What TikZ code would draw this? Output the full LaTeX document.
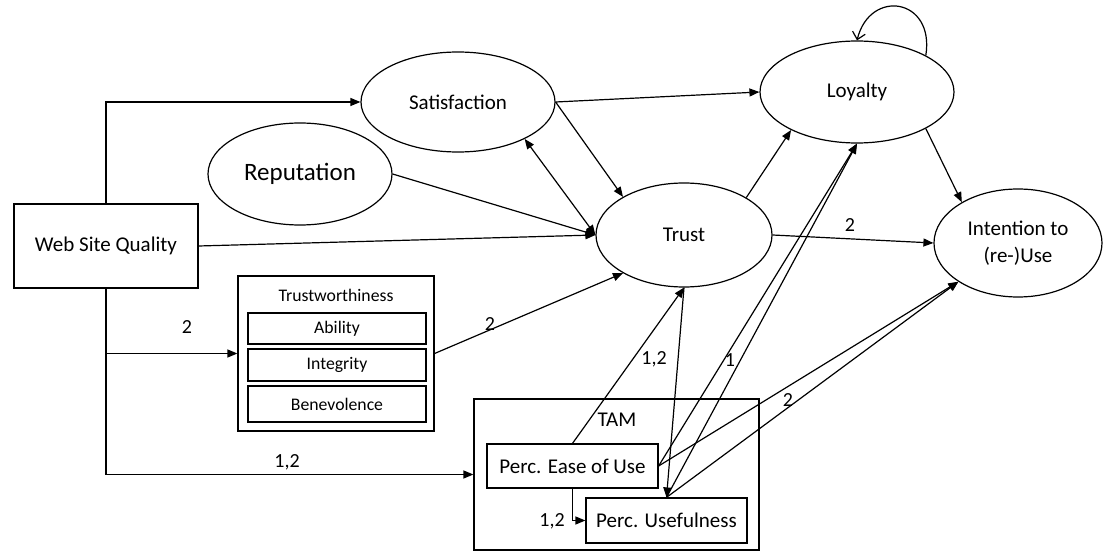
\documentclass[tikz,border=0pt]{standalone}
\usepackage{fontspec}
\setmainfont{Carlito}
\usetikzlibrary{shapes.geometric,arrows.meta}
\begin{document}
\begin{tikzpicture}[x=1pt,y=-1pt,line width=1.2pt,
  font=\fontsize{21}{27}\selectfont,
  oval/.style={ellipse,draw,inner sep=0pt},
  box/.style={rectangle,draw,inner sep=0pt},
  arr/.style={-{Triangle[length=10pt,width=8pt]}},
  biarr/.style={{Triangle[length=10pt,width=8pt]}-{Triangle[length=10pt,width=8pt]}},
  lbl/.style={font=\fontsize{20}{24}\selectfont,inner sep=0pt},
  smalltxt/.style={font=\fontsize{17.7}{20}\selectfont}
]
\useasboundingbox (0,0) rectangle (1106,553);

% constructs
\node[box,minimum width=184pt,minimum height=84pt] (wsq) at (106,246) {Web Site Quality};
\node[oval,minimum width=194pt,minimum height=100pt] (sat) at (458,102) {Satisfaction};
\node[oval,minimum width=184pt,minimum height=102pt,font=\fontsize{25}{30}\selectfont] (rep) at (300,174) {Reputation};
\node[oval,minimum width=176pt,minimum height=104pt] (trust) at (684,235) {Trust};
\node[oval,minimum width=194pt,minimum height=102pt] (loy) at (857,92) {Loyalty};
\node[oval,minimum width=168pt,minimum height=108pt,align=center] (int) at (1018,243) {Intention to\\(re-)Use};

% trustworthiness group
\node[box,minimum width=196pt,minimum height=155pt] (tw) at (336,353.5) {};
\node[smalltxt,inner sep=0pt] (twt) at (336,295) {Trustworthiness};
\node[box,smalltxt,minimum width=178pt,minimum height=31pt] (abi) at (337,328.5) {Ability};
\node[box,smalltxt,minimum width=178pt,minimum height=32pt] (integ) at (337,365) {Integrity};
\node[box,smalltxt,minimum width=178pt,minimum height=36pt] (ben) at (337,404) {Benevolence};

% TAM group
\node[box,minimum width=285pt,minimum height=151pt] (tam) at (616.5,474.5) {};
\node[inner sep=0pt] (tamt) at (617,420) {TAM};
\node[box,minimum width=171pt,minimum height=44pt] (peou) at (572.5,466) {Perc. Ease of Use};
\node[box,minimum width=161pt,minimum height=45pt] (pu) at (666.5,520.5) {Perc. Usefulness};

% paths from web site quality
\draw[arr] (wsq.north) |- (sat.west);
\draw[arr] (wsq.east) -- (trust.west);
\draw[arr] (wsq.south) |- (tw.west);
\draw[arr] (wsq.south) |- (tam.west);

% paths among the constructs
\draw[arr] (sat.east) -- (loy.west);
\draw[arr] (sat.east) -- (trust.148);
\draw[biarr] (sat.-29) -- (trust.west);
\draw[arr] (rep.east) -- (trust.west);
\draw[arr] (tw.east) -- (trust.212);
\draw[arr] (trust.31) -- (loy.210);
\draw[arr] (trust.east) -- (int.west);
\draw[arr] (loy.-28) -- (int.144);
\draw[-{Straight Barb[length=7pt,width=13pt]}] (loy.28) .. controls (935,-2) and (870,-12) .. (loy.north);

% paths from the TAM constructs
\draw[arr] (peou.north) -- (trust.south);
\draw[arr] (trust.south) -- (pu.north);
\draw[arr] (peou.east) -- (loy.south);
\draw[arr] (pu.north) -- (loy.south);
\draw[arr] (peou.east) -- (int.213);
\draw[arr] (pu.north) -- (int.213);
\draw[arr] (peou.south) |- (pu.west);

% path labels
\node[lbl] (l1) at (187,327) {2};
\node[lbl] (l2) at (287,462) {1,2};
\node[lbl] (l3) at (490,324) {2};
\node[lbl] (l4) at (654,359) {1,2};
\node[lbl] (l5) at (730,360) {1};
\node[lbl] (l6) at (850,225) {2};
\node[lbl] (l7) at (788,400) {2};
\node[lbl] (l8) at (552,521) {1,2};
\end{tikzpicture}
\end{document}
